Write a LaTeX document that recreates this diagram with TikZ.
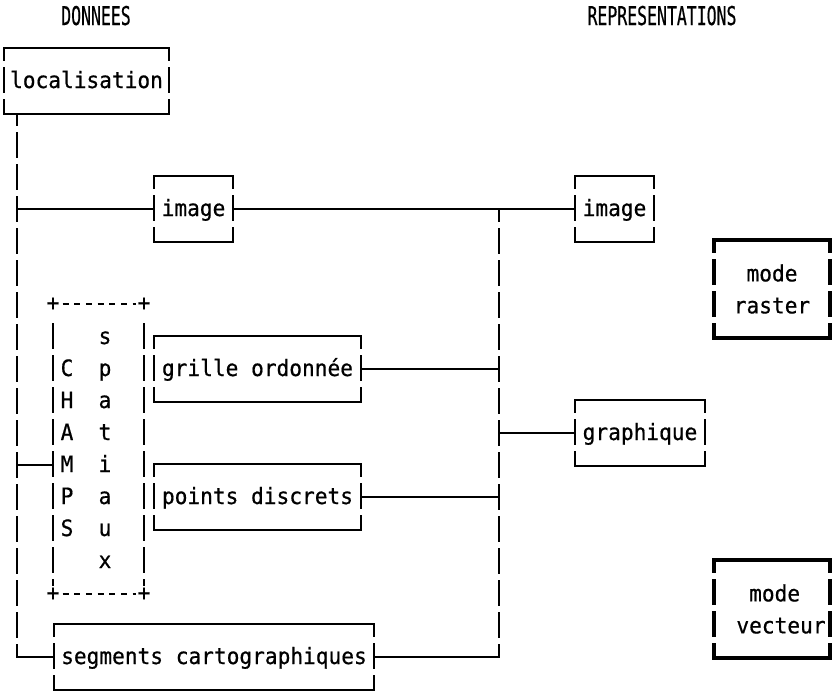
\documentclass[tikz,border=0pt]{standalone}
\usepackage{fontspec}
\setmonofont{DejaVu Sans Mono}[FakeStretch=0.94, FakeBold=0.6]
\newcommand\tframe[2][]{%
  \draw[line cap=rect,#1] (#2.north west) -- (#2.north east) (#2.south west) -- (#2.south east);
  \draw[vdash,#1] (#2.north west) -- (#2.south west) (#2.north east) -- (#2.south east);}
\begin{document}
\begin{tikzpicture}[x=1pt,y=-1pt,
  line width=2pt,
  every node/.style={font=\ttfamily\fontsize{22.5}{32}\selectfont, inner sep=0pt},
  vdash/.style={dash pattern=on 26pt off 6pt, dash phase=13pt},
  tbox/.style={minimum height=64pt, text height=14pt, text depth=0pt},
  thick frame/.style={line width=3.4pt},
  lbl/.style={anchor=base},
  head/.style={anchor=base},
]
\useasboundingbox (0,0) rectangle (832,691);

% headers
\node[head] (hd) at (96,25) {\scalebox{0.78}[1.15]{DONNEES}};
\node[head] (hr) at (662,25) {\scalebox{0.78}[1.15]{REPRESENTATIONS}};

% boxes
\node[tbox, minimum width=163pt] (loc) at (86.5,81) {localisation};
\node[tbox, minimum width=77pt] (img1) at (193.5,209) {image};
\node[tbox, minimum width=77pt] (img2) at (614.5,209) {image};
\node[tbox, minimum width=205pt] (grille) at (257.5,369) {grille ordonnée};
\node[tbox, minimum width=128pt] (graph) at (640,433) {graphique};
\node[tbox, minimum width=205pt] (points) at (257.5,497) {points discrets};
\node[tbox, minimum width=318pt] (seg) at (214,657) {segments cartographiques};
\foreach \n in {loc,img1,img2,grille,graph,points,seg} {\tframe{\n}}

% mode boxes
\node[minimum width=114pt, minimum height=96pt] (rast) at (772,289) {};
\node[minimum width=114pt, minimum height=96pt] (vect) at (772,609) {};
\node[align=center] (rastt) at (rast) {mode\\raster};
\node[align=left] (vectt) at (781,609) {\phantom{v}mode\\vecteur};
\tframe[thick frame]{rast}
\tframe[thick frame]{vect}

% CHAMPS spatiaux box
\node[minimum width=89pt, minimum height=288pt] (champs) at (98.5,449) {};
\node (p1) at (champs.north west) {+};
\node (p2) at (champs.north east) {+};
\node (p3) at (champs.south west) {+};
\node (p4) at (champs.south east) {+};
\draw[dash pattern=on 6pt off 5.7pt] ([xshift=9.5pt]champs.north west) -- ([xshift=-8pt]champs.north east);
\draw[dash pattern=on 6pt off 5.7pt] ([xshift=9.5pt]champs.south west) -- ([xshift=-8pt]champs.south east);
\draw[dash pattern=on 26pt off 6pt] ([yshift=-19pt]champs.north west) -- ([yshift=8pt]champs.south west);
\draw[dash pattern=on 26pt off 6pt] ([yshift=-19pt]champs.north east) -- ([yshift=8pt]champs.south east);
\foreach \c [count=\i from 11] in {C,H,A,M,P,S}
  \node[lbl] (c\i) at (67,{24+32*\i}) {\c};
\foreach \c [count=\i from 10] in {s,p,a,t,i,a,u,x}
  \node[lbl] (s\i) at (105,{24+32*\i}) {\c};

% connectors
\coordinate (m0) at (17,113);
\coordinate (m1) at (17,657);
\coordinate (r0) at (499,209);
\coordinate (r1) at (499,657);
\coordinate (cM) at (54,465);
\draw[vdash] (m0) -- (m1);
\draw[line cap=rect] (m1) -- (seg.west);
\draw (m0 |- img1.west) -- (img1.west);
\draw (m0 |- cM) -- (cM);
\draw (img1.east) -- (img2.west);
\draw[vdash] (r0) -- (r1);
\draw (grille.east) -- (grille.east -| r0);
\draw (points.east) -- (points.east -| r0);
\draw[line cap=rect] (seg.east) -- (seg.east -| r1);
\draw (r0 |- graph.west) -- (graph.west);
\end{tikzpicture}
\end{document}
